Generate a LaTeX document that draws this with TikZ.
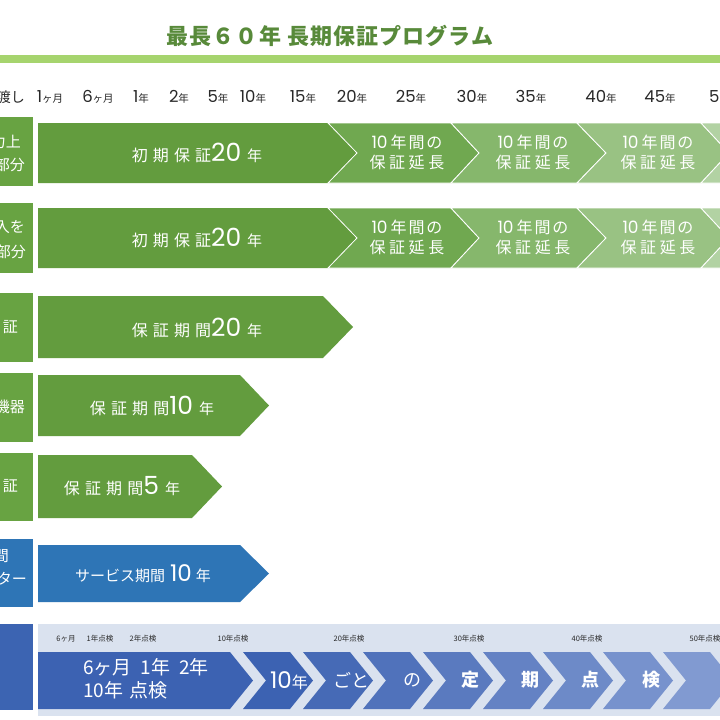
\documentclass[tikz,border=0pt]{standalone}
\usepackage{fontspec}
\setmainfont{Noto Sans CJK JP}
\newfontfamily\jpls[LetterSpace=22]{Noto Sans CJK JP}
\newfontfamily\jpbig[LetterSpace=32]{Noto Sans CJK JP}
\newfontfamily\jplt[LetterSpace=12]{Noto Sans CJK JP}
\newfontfamily\jpttl[LetterSpace=5]{Noto Sans CJK JP}
\newfontfamily\num{Poppins}
\definecolor{ttl}{RGB}{88,138,58}
\definecolor{bar}{RGB}{166,212,110}
\definecolor{gA}{RGB}{99,156,62}
\definecolor{gB}{RGB}{112,168,80}
\definecolor{gC}{RGB}{134,183,108}
\definecolor{gD}{RGB}{153,194,131}
\definecolor{gE}{RGB}{178,210,163}
\definecolor{gbox}{RGB}{104,163,66}
\definecolor{bl}{RGB}{46,117,182}
\definecolor{blbox}{RGB}{60,100,178}
\definecolor{panel}{RGB}{218,226,239}
\definecolor{bA}{RGB}{60,98,178}
\definecolor{bB}{RGB}{150,170,218}
\definecolor{txt}{RGB}{40,40,40}
\tikzset{
  wt/.style={text=white, inner sep=0pt, font=\fontsize{16}{20}\selectfont},
  hd/.style={text=txt, inner sep=0pt},
  sm/.style={text=txt, inner sep=0pt, font=\fontsize{7.5}{8}\selectfont},
  lb/.style={text=white, inner sep=0pt, anchor=east, font=\fontsize{15}{15}\selectfont},
  sep/.style={draw=white, line width=0.8pt}
}
\newcommand\hy[2]{{\num\fontsize{16.5}{16}\selectfont #1}{\fontsize{10.5}{10}\selectfont #2}}
\newcommand\ext{{\num\fontsize{17}{16}\selectfont 10}\hspace{3pt}{\jplt 年間の}\\{\jpls 保証延長}}
\newcommand\bigtxt[3]{{\jpbig #1}{\num\fontsize{25}{24}\selectfont #2}\hspace{6pt}{\fontsize{15}{15}\selectfont #3}}
\begin{document}
\begin{tikzpicture}[x=1pt,y=-1pt]
\useasboundingbox (0,0) rectangle (720,720);
\clip (0,0) rectangle (720,720);
\fill[white] (0,0) rectangle (720,720);
% title
\node[text=ttl, inner sep=0pt, font=\jpttl\bfseries\fontsize{22}{22}\selectfont] (title) at (330,36) {最長６０年 長期保証プログラム};
\fill[bar] (0,55) rectangle (720,63);
% header
\node[hd, anchor=east, font=\fontsize{14}{14}\selectfont] (h0) at (25,97) {引渡し};
\node[hd] (h1) at (50,97) {\hy{1}{ヶ月}};
\node[hd] (h2) at (98,97) {\hy{6}{ヶ月}};
\node[hd] (h3) at (141,97) {\hy{1}{年}};
\node[hd] (h4) at (179,97) {\hy{2}{年}};
\node[hd] (h5) at (218,97) {\hy{5}{年}};
\node[hd] (h6) at (253,97) {\hy{10}{年}};
\node[hd] (h7) at (303,97) {\hy{15}{年}};
\node[hd] (h8) at (352,97) {\hy{20}{年}};
\node[hd] (h9) at (411,97) {\hy{25}{年}};
\node[hd] (h10) at (472,97) {\hy{30}{年}};
\node[hd] (h11) at (531,97) {\hy{35}{年}};
\node[hd] (h12) at (601,97) {\hy{40}{年}};
\node[hd] (h13) at (660,97) {\hy{45}{年}};
\node[hd, anchor=west] (h14) at (709,97) {\hy{50}{年}};
% left label boxes
\fill[gbox] (-5,117) rectangle (33,186);
\fill[gbox] (-5,203) rectangle (33,273);
\fill[gbox] (-5,293) rectangle (33,362);
\fill[gbox] (-5,373) rectangle (33,442);
\fill[gbox] (-5,453) rectangle (33,521);
\fill[bl] (-5,539) rectangle (33,607);
\fill[blbox] (-5,624) rectangle (33,710);
\node[lb] (l1a) at (21,142) {構造耐力上};
\node[lb] (l1b) at (25,165) {主要な部分};
\node[lb] (l2a) at (25,227) {雨水の浸入を};
\node[lb] (l2b) at (26,252) {防止する部分};
\node[lb] (l3) at (18,327) {地盤保\hspace{3pt}証};
\node[lb] (l4) at (25,407) {設備機器};
\node[lb] (l5) at (18,486) {防蟻保\hspace{3pt}証};
\node[lb] (l6a) at (9,556) {24時間};
\node[lb] (l6b) at (27,579) {コールセンター};
% rows 1 and 2
\foreach \t/\b in {123/183, 208/268}{
  \pgfmathsetmacro{\m}{(\t+\b)/2}
  \fill[gA] (38,\t) -- (328,\t) -- (357,\m) -- (328,\b) -- (38,\b) -- cycle;
  \fill[gB,sep] (328,\t) -- (451,\t) -- (479,\m) -- (451,\b) -- (328,\b) -- (357,\m) -- cycle;
  \fill[gC,sep] (451,\t) -- (577,\t) -- (606,\m) -- (577,\b) -- (451,\b) -- (479,\m) -- cycle;
  \fill[gD,sep] (577,\t) -- (701,\t) -- (729,\m) -- (701,\b) -- (577,\b) -- (606,\m) -- cycle;
  \fill[gE,sep] (701,\t) -- (830,\t) -- (858,\m) -- (830,\b) -- (701,\b) -- (729,\m) -- cycle;
}
\node[wt] (r1) at (197,153) {\bigtxt{初期保証}{20}{年}};
\node[wt, align=center] (r1b) at (407,152) {\ext};
\node[wt, align=center] (r1c) at (533,152) {\ext};
\node[wt, align=center] (r1d) at (658,152) {\ext};
\node[wt] (r2) at (197,238) {\bigtxt{初期保証}{20}{年}};
\node[wt, align=center] (r2b) at (407,237) {\ext};
\node[wt, align=center] (r2c) at (533,237) {\ext};
\node[wt, align=center] (r2d) at (658,237) {\ext};
% row 3
\fill[gA] (38,296) -- (323,296) -- (353,327) -- (323,358) -- (38,358) -- cycle;
\node[wt] (r3) at (197,328) {\bigtxt{保証期間}{20}{年}};
% row 4
\fill[gA] (38,375) -- (240,375) -- (269,405.5) -- (240,436) -- (38,436) -- cycle;
\node[wt] (r4) at (152,406) {\bigtxt{保証期間}{10}{年}};
% row 5
\fill[gA] (38,455) -- (192,455) -- (222,486.5) -- (192,518) -- (38,518) -- cycle;
\node[wt] (r5) at (122,486) {\bigtxt{保証期間}{5}{年}};
% row 6
\fill[bl] (38,545) -- (240,545) -- (269,573.5) -- (240,602) -- (38,602) -- cycle;
\node[wt] (r6) at (143,574) {{\fontsize{15}{15}\selectfont サービス期間}\hspace{5pt}{\num\fontsize{23}{22}\selectfont 10}\hspace{4pt}{\fontsize{15}{15}\selectfont 年}};
% row 7
\fill[panel] (38,624) rectangle (730,716);
\node[sm] (s1) at (66,639) {6ヶ月};
\node[sm] (s2) at (100,639) {1年点検};
\node[sm] (s3) at (143,639) {2年点検};
\node[sm] (s4) at (233,639) {10年点検};
\node[sm] (s5) at (349,639) {20年点検};
\node[sm] (s6) at (469,639) {30年点検};
\node[sm] (s7) at (587,639) {40年点検};
\node[sm] (s8) at (705,639) {50年点検};
\fill[bA] (38,652) -- (230,652) -- (253,680.5) -- (230,709) -- (38,709) -- cycle;
\foreach \k in {0,...,8}{
  \pgfmathsetmacro{\L}{243+60*\k}
  \pgfmathsetmacro{\pc}{100-11*\k}
  \fill[bA!\pc!bB] (\L,652) -- (\L+47,652) -- (\L+70,680.5) -- (\L+47,709) -- (\L,709) -- (\L+23,680.5) -- cycle;
}
\node[text=white, inner sep=0pt, anchor=west, align=left, font=\fontsize{19}{23}\selectfont] (b0) at (83,679) {6ヶ月\hspace{9pt}1年\hspace{9pt}2年\\10年\hspace{6pt}点検};
\node[text=white, inner sep=0pt] (b1) at (289,681) {{\num\fontsize{23}{21}\selectfont 10}{\fontsize{16}{16}\selectfont 年}};
\node[wt, font=\fontsize{18}{18}\selectfont] (b2) at (351,680) {ごと};
\node[wt, font=\fontsize{18}{18}\selectfont] (b3) at (412,680) {の};
\node[wt, font=\bfseries\fontsize{18}{18}\selectfont] (b4) at (470,680) {定};
\node[wt, font=\bfseries\fontsize{18}{18}\selectfont] (b5) at (530,680) {期};
\node[wt, font=\bfseries\fontsize{18}{18}\selectfont] (b6) at (590,680) {点};
\node[wt, font=\bfseries\fontsize{18}{18}\selectfont] (b7) at (651,680) {検};
\end{tikzpicture}
\end{document}
